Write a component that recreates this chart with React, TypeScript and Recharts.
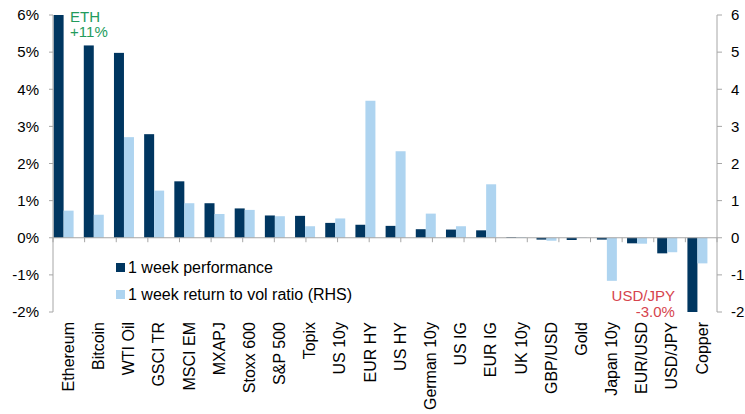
import { Bar, BarChart, ReferenceDot, ReferenceLine, XAxis, YAxis } from 'recharts';

const assets = [
  'Ethereum', 'Bitcoin', 'WTI Oil', 'GSCI TR', 'MSCI EM', 'MXAPJ', 'Stoxx 600',
  'S&P 500', 'Topix', 'US 10y', 'EUR HY', 'US HY', 'German 10y', 'US IG',
  'EUR IG', 'UK 10y', 'GBP/USD', 'Gold', 'Japan 10y', 'EUR/USD', 'USD/JPY', 'Copper',
];

// 1 week performance, %
const weekPerf = [
  11.0, 5.18, 4.98, 2.79, 1.52, 0.93, 0.79, 0.6, 0.59, 0.4, 0.35, 0.32, 0.23,
  0.22, 0.2, 0.02, -0.05, -0.06, -0.05, -0.15, -0.42, -3.0,
];

// 1 week return / vol ratio (RHS)
const volRatio = [
  0.73, 0.62, 2.71, 1.27, 0.93, 0.64, 0.75, 0.58, 0.31, 0.52, 3.69, 2.33, 0.65,
  0.31, 1.44, 0.02, -0.08, 0.01, -1.16, -0.16, -0.39, -0.69,
];

const yTicks = [-2, -1, 0, 1, 2, 3, 4, 5, 6];
const Y_MIN = -2;
const Y_MAX = 6;

const DARK = '#003660';
const LIGHT = '#aed4f0';
const AXIS = '#a6a6a6';
const FONT = '"Liberation Sans", Arial, sans-serif';

const rows = assets.map((name, i) => ({ name, perf: weekPerf[i], ratio: volRatio[i] }));
const edges = assets.map((_, i) => i).concat(assets.length);

// bars sit a little left of the band centre
const BAR_SHIFT = -4.4;

const ShiftedBar = (props: any) => {
  const { x, y, width, height, fill } = props;
  const top = height < 0 ? y + height : y;
  return <rect x={x + BAR_SHIFT} y={top} width={width} height={Math.abs(height)} fill={fill} />;
};

const CategoryTick = ({ x, y, payload }: any) => (
  <text
    transform={`translate(${x},${y}) rotate(-90)`}
    textAnchor="end"
    dy="0.36em"
    fontSize={16}
    fontFamily={FONT}
    fill="#000"
  >
    {payload.value}
  </text>
);

const EthNote = ({ viewBox }: any) => (
  <text x={viewBox.x + 2} fontSize={15} fontFamily={FONT} fill="#229b5c">
    <tspan x={viewBox.x + 2} y={viewBox.y + 6.5}>ETH</tspan>
    <tspan x={viewBox.x + 2} y={viewBox.y + 22}>{`+${weekPerf[0]}%`}</tspan>
  </text>
);

const JpyNote = ({ viewBox }: any) => (
  <text textAnchor="end" fontSize={15} fontFamily={FONT} fill="#d6434d">
    <tspan x={viewBox.x - 27} y={viewBox.y - 11}>USD/JPY</tspan>
    <tspan x={viewBox.x - 27} y={viewBox.y + 5}>{`${weekPerf[assets.length - 1].toFixed(1)}%`}</tspan>
  </text>
);

const legendItems = [
  { label: '1 week performance', color: DARK },
  { label: '1 week return to vol ratio (RHS)', color: LIGHT },
];

export default function App() {
  return (
    <div
      style={{
        position: 'absolute',
        left: 0,
        top: 0,
        width: 745,
        height: 414,
        background: '#fff',
        fontFamily: FONT,
      }}
    >
      <BarChart
        width={745}
        height={414}
        data={rows}
        margin={{ top: 15, right: 0, bottom: 0, left: 0 }}
        barGap={0}
        barSize={10}
      >
        <XAxis
          dataKey="name"
          xAxisId="cat"
          height={102}
          interval={0}
          axisLine={false}
          tickLine={false}
          tickSize={0}
          tickMargin={10}
          tick={<CategoryTick />}
        />
        <XAxis xAxisId="edges" type="number" domain={[0, assets.length]} hide />
        <YAxis
          yAxisId="left"
          width={53}
          domain={[Y_MIN, Y_MAX]}
          ticks={yTicks}
          allowDataOverflow
          tickFormatter={(v) => `${v}%`}
          axisLine={{ stroke: AXIS }}
          tickLine={{ stroke: AXIS }}
          tickSize={4}
          tickMargin={10}
          tick={{ fill: '#000', fontSize: 15, fontFamily: FONT }}
        />
        <YAxis
          yAxisId="right"
          orientation="right"
          width={28}
          domain={[Y_MIN, Y_MAX]}
          ticks={yTicks}
          allowDataOverflow
          axisLine={{ stroke: AXIS }}
          tickLine={{ stroke: AXIS }}
          tickSize={5}
          tickMargin={9}
          tick={{ fill: '#000', fontSize: 15, fontFamily: FONT, textAnchor: 'start' }}
        />

        <Bar
          dataKey="perf"
          xAxisId="cat"
          yAxisId="left"
          fill={DARK}
          shape={<ShiftedBar />}
          isAnimationActive={false}
        />
        <Bar
          dataKey="ratio"
          xAxisId="cat"
          yAxisId="right"
          fill={LIGHT}
          shape={<ShiftedBar />}
          isAnimationActive={false}
        />

        <ReferenceLine y={0} yAxisId="left" xAxisId="edges" stroke={AXIS} />
        {edges.map((e) => (
          <ReferenceLine
            key={`edge-${e}`}
            xAxisId="edges"
            yAxisId="left"
            stroke={AXIS}
            segment={[
              { x: e, y: 0 },
              { x: e, y: -0.12 },
            ]}
          />
        ))}

        <ReferenceDot
          x="Ethereum"
          y={Y_MAX}
          xAxisId="cat"
          yAxisId="left"
          r={0}
          fill="none"
          stroke="none"
          label={(p: any) => <EthNote {...p} />}
        />
        <ReferenceDot
          x="Copper"
          y={Y_MIN}
          xAxisId="cat"
          yAxisId="left"
          r={0}
          fill="none"
          stroke="none"
          label={(p: any) => <JpyNote {...p} />}
        />
      </BarChart>

      {/* Legend / Key */}
      <div style={{ position: 'absolute', left: 116, top: 254, fontSize: 16, color: '#000' }}>
        {legendItems.map((item) => (
          <div key={item.label} style={{ display: 'flex', alignItems: 'center', height: 27 }}>
            <div style={{ width: 9, height: 9, background: item.color, marginRight: 3 }} />
            <span>{item.label}</span>
          </div>
        ))}
      </div>
    </div>
  );
}
